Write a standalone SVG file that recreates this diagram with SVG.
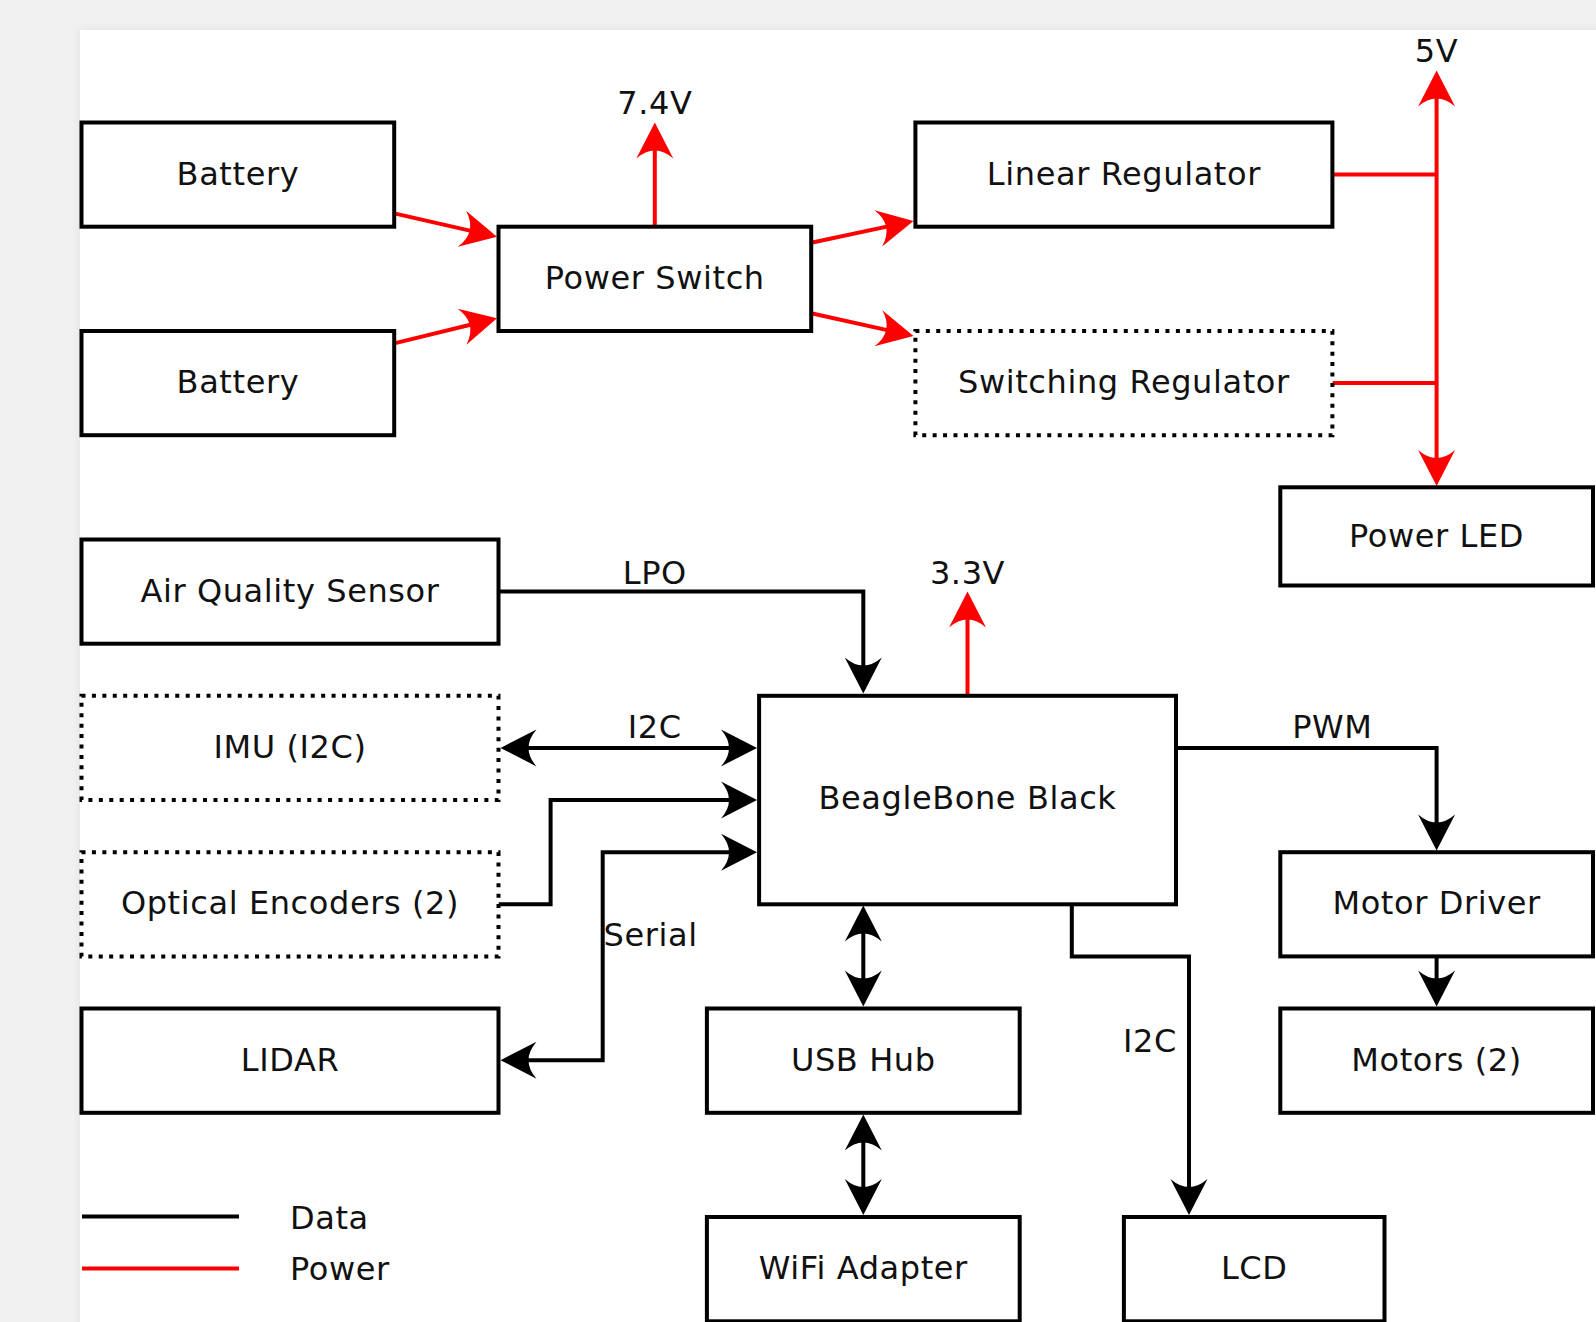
<svg xmlns="http://www.w3.org/2000/svg" width="1596" height="1322" viewBox="0 0 1596 1322">
<defs>
<style>
.box{fill:#fff;stroke:#000;stroke-width:4}
.dot{fill:#fff;stroke:#000;stroke-width:4;stroke-dasharray:4 6.42}
.t{font-family:"DejaVu Sans","Liberation Sans",sans-serif;font-size:32px;fill:#111;text-anchor:middle;letter-spacing:0.6px}
.ts{text-anchor:start}
.d{fill:none;stroke:#000;stroke-width:4}
.p{fill:none;stroke:#f00;stroke-width:4}
.da{marker-end:url(#ab)}
.dab{marker-start:url(#ab);marker-end:url(#ab)}
.pa{marker-end:url(#ar)}
.pab{marker-start:url(#ar);marker-end:url(#ar)}
</style>
<marker id="ab" markerUnits="userSpaceOnUse" markerWidth="40" markerHeight="40" refX="0" refY="0" orient="auto-start-reverse" overflow="visible"><path d="M20,0 L-16,-18.5 Q0,0 -16,18.5 Z" fill="#000"/></marker>
<marker id="ar" markerUnits="userSpaceOnUse" markerWidth="40" markerHeight="40" refX="0" refY="0" orient="auto-start-reverse" overflow="visible"><path d="M20,0 L-16,-18.5 Q0,0 -16,18.5 Z" fill="#f00"/></marker>
<filter id="sh" x="-5%" y="-5%" width="110%" height="110%"><feGaussianBlur stdDeviation="4"/></filter>
</defs>
<rect x="0" y="0" width="1596" height="1322" fill="#f0f0f0"/>
<rect x="80" y="30" width="1530" height="1310" fill="#000" opacity="0.06" filter="url(#sh)"/>
<rect x="80" y="30" width="1516" height="1292" fill="#fff"/>

<g id="connectors">
<path class="p pa" d="M394.2,213.4 L477.5,232.36"/>
<path class="p pa" d="M394.2,343.4 L477.57,322.96"/>
<path class="p pa" d="M811.2,242.7 L893.94,225.15"/>
<path class="p pa" d="M811.2,313.3 L893.97,331.67"/>
<path class="p pa" d="M654.8,226.7 V142.5"/>
<path class="p pab" d="M1436.6,90.4 V466"/>
<path class="p" d="M1332.4,174.6 H1436.6 M1332.4,383.1 H1436.6"/>
<path class="d da" d="M498.5,591.6 H863.3 V673.5"/>
<path class="p pa" d="M967.5,695.8 V611.6"/>
<path class="d dab" d="M520.5,747.9 H737"/>
<path class="d da" d="M498.5,904.3 H550.6 V800.1 H737"/>
<path class="d dab" d="M737,852.2 H602.7 V1060.2 H520.5"/>
<path class="d da" d="M1176,747.9 H1436.6 V830.5"/>
<path class="d da" d="M1436.6,956.4 V986.5"/>
<path class="d dab" d="M863.3,925.5 V986.5"/>
<path class="d dab" d="M863.3,1134.5 V1195"/>
<path class="d da" d="M1071.8,904.3 V956.4 H1189 V1195"/>
<path class="d" d="M82,1216.5 H239"/>
<path class="p" d="M82,1268.5 H239"/>
</g>

<g id="labels">
<text class="t" x="654.8" y="114">7.4V</text>
<text class="t" x="1436.6" y="62">5V</text>
<text class="t" x="654.8" y="584">LPO</text>
<text class="t" x="967.5" y="584">3.3V</text>
<text class="t" x="654.8" y="738">I2C</text>
<text class="t" x="1332.4" y="737.5">PWM</text>
<text class="t ts" x="603.5" y="946.4">Serial</text>
<text class="t" x="1150" y="1051.7">I2C</text>
<text class="t ts" x="290" y="1229">Data</text>
<text class="t ts" x="290" y="1280">Power</text>
</g>

<g id="battery1"><rect class="box" x="81.5" y="122.5" width="312.7" height="104.2"/><text class="t" x="237.9" y="184.6">Battery</text></g>
<g id="battery2"><rect class="box" x="81.5" y="331" width="312.7" height="104.2"/><text class="t" x="237.9" y="393.1">Battery</text></g>
<g id="power-switch"><rect class="box" x="498.5" y="226.7" width="312.7" height="104.3"/><text class="t" x="654.8" y="288.9">Power Switch</text></g>
<g id="linear-regulator"><rect class="box" x="915.4" y="122.5" width="417" height="104.2"/><text class="t" x="1123.9" y="184.6">Linear Regulator</text></g>
<g id="switching-regulator"><rect class="dot" x="915.4" y="331" width="417" height="104.2"/><text class="t" x="1123.9" y="393.1">Switching Regulator</text></g>
<g id="power-led"><rect class="box" x="1280.3" y="487.3" width="312.7" height="98.2"/><text class="t" x="1436.6" y="547">Power LED</text></g>
<g id="air-quality-sensor"><rect class="box" x="81.5" y="539.5" width="417" height="104.2"/><text class="t" x="290" y="601.6">Air Quality Sensor</text></g>
<g id="imu"><rect class="dot" x="81.5" y="695.8" width="417" height="104.3"/><text class="t" x="290" y="758">IMU (I2C)</text></g>
<g id="optical-encoders"><rect class="dot" x="81.5" y="852.2" width="417" height="104.2"/><text class="t" x="290" y="914">Optical Encoders (2)</text></g>
<g id="lidar"><rect class="box" x="81.5" y="1008.5" width="417" height="104.3"/><text class="t" x="290" y="1070.5">LIDAR</text></g>
<g id="beaglebone-black"><rect class="box" x="759.1" y="695.8" width="416.9" height="208.5"/><text class="t" x="967.5" y="809">BeagleBone Black</text></g>
<g id="motor-driver"><rect class="box" x="1280.3" y="852.2" width="312.7" height="104.2"/><text class="t" x="1436.6" y="914">Motor Driver</text></g>
<g id="motors"><rect class="box" x="1280.3" y="1008.5" width="312.7" height="104.3"/><text class="t" x="1436.6" y="1070.5">Motors (2)</text></g>
<g id="usb-hub"><rect class="box" x="706.9" y="1008.5" width="312.8" height="104.3"/><text class="t" x="863.3" y="1070.5">USB Hub</text></g>
<g id="wifi-adapter"><rect class="box" x="706.9" y="1217" width="312.8" height="104.3"/><text class="t" x="863.3" y="1279">WiFi Adapter</text></g>
<g id="lcd"><rect class="box" x="1123.9" y="1217" width="260.6" height="104.3"/><text class="t" x="1254.2" y="1279">LCD</text></g>
</svg>
